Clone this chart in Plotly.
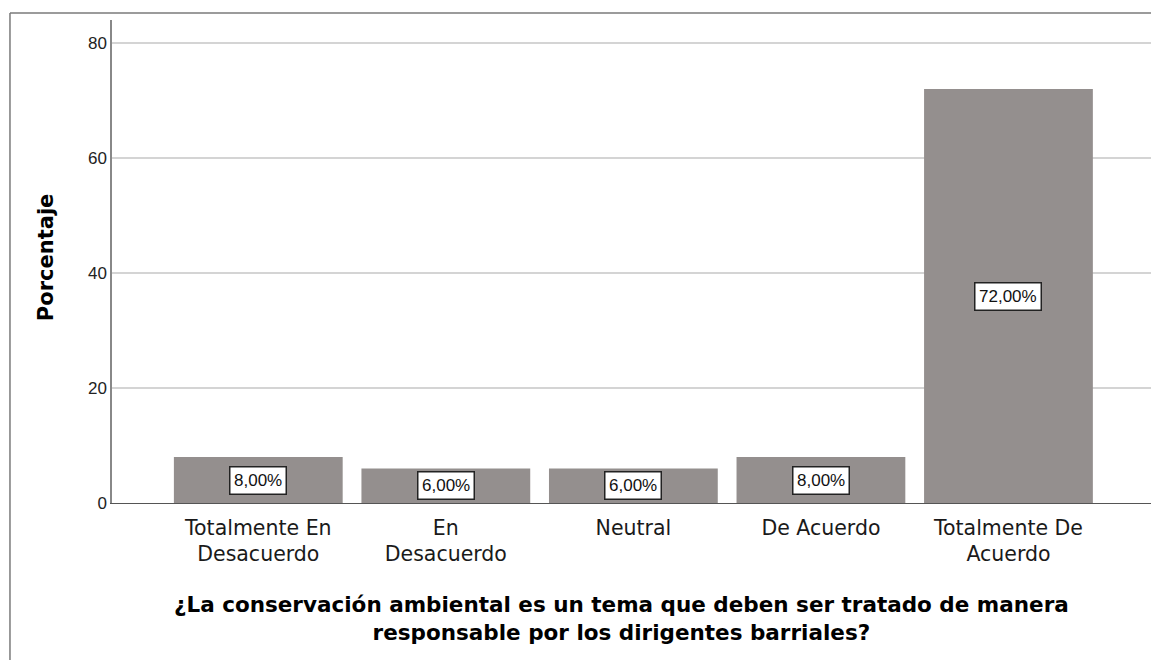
import plotly.graph_objects as go

# data
categories = ["Totalmente En<br>Desacuerdo", "En<br>Desacuerdo", "Neutral",
              "De Acuerdo", "Totalmente De<br>Acuerdo"]
percentages = [8.0, 6.0, 6.0, 8.0, 72.0]
y_ticks = [0, 20, 40, 60, 80]

bar_labels = [f"{v:.2f}%".replace(".", ",") for v in percentages]

fig = go.Figure()
fig.add_trace(go.Bar(
    x=categories, y=percentages,
    marker=dict(color="#948f8e", line=dict(width=0)),
    hoverinfo="x+y",
))

# value boxes in the middle of each bar
for cat, val, lab in zip(categories, percentages, bar_labels):
    fig.add_annotation(
        x=cat, y=val / 2, text=lab, showarrow=False,
        font=dict(family="Liberation Sans, Arial, sans-serif", size=17, color="#111111"),
        bgcolor="white", bordercolor="#222222", borderwidth=1.5, borderpad=3.5,
    )

# axis titles
fig.add_annotation(
    xref="paper", yref="paper", x=-0.077, y=0.509, text="<b>Porcentaje</b>",
    textangle=-90, showarrow=False,
    font=dict(family="DejaVu Sans, sans-serif", size=21, color="black"),
)
fig.add_annotation(
    xref="paper", yref="paper", x=0.49, y=-0.24, yanchor="middle",
    text="<b>¿La conservación ambiental es un tema que deben ser tratado de manera<br>responsable por los dirigentes barriales?</b>",
    showarrow=False,
    font=dict(family="DejaVu Sans, sans-serif", size=21.5, color="black"),
)

# outer frame (left and top)
fig.add_shape(type="line", xref="paper", yref="paper",
              x0=-0.0982, x1=-0.0982, y0=1.0145, y1=-0.33,
              line=dict(color="#7a7a7a", width=1.5))
fig.add_shape(type="line", xref="paper", yref="paper",
              x0=-0.0982, x1=1.0, y0=1.0145, y1=1.0145,
              line=dict(color="#7a7a7a", width=1.5))

fig.update_layout(
    width=1151, height=660,
    margin=dict(l=112, r=0, t=20, b=157),
    plot_bgcolor="white", paper_bgcolor="white",
    bargap=0.1, showlegend=False,
    font=dict(family="Liberation Sans, Arial, sans-serif", color="black"),
    xaxis=dict(
        range=[-0.78, 4.76], showgrid=False, zeroline=False,
        showline=True, linecolor="#555555", linewidth=1.2,
        ticks="", ticklabelstandoff=6,
        tickfont=dict(family="DejaVu Sans, sans-serif", size=20.5, color="#1a1a1a"),
    ),
    yaxis=dict(
        range=[0, 84], tickvals=y_ticks, showgrid=True, gridcolor="#d4d4d4",
        gridwidth=1.5, zeroline=False, showline=True, linecolor="#888888",
        linewidth=1.5, ticks="", ticklen=0,
        tickfont=dict(size=17, color="#222222"),
    ),
)

fig.write_html("out.html", config={"displayModeBar": False},
               post_script="document.body.style.margin='0px';")
